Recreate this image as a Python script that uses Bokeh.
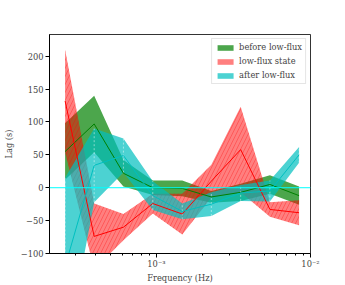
from bokeh.plotting import figure
from bokeh.embed import file_html
from bokeh.resources import INLINE
from bokeh.models import ColumnDataSource, Span, Legend, LegendItem, CustomJSTickFormatter, FixedTicker
import numpy as np

# ---- data ----
freq = [2.55e-4, 3.94e-4, 6.1e-4, 9.46e-4, 1.47e-3, 2.27e-3, 3.52e-3, 5.45e-3, 8.43e-3]

before_lag = [55, 97, 22, 0, -1, -14, -7, 5, -12]
before_err = [43, 43, 20, 11, 12, 9, 13, 14, 14]

low_lag = [132, -74, -60, -24, -40, 10, 58, -33, -38]
low_err = [78, 50, 20, 15, 31, 25, 65, 11, 19]

after_lag = [-120, 34, 49, -12, -36, -25, -8, -5, 50]
after_err = [135, 56, 26, 22, 12, 18, 12, 16, 12]

labels = ["before low-flux", "low-flux state", "after low-flux"]
y_ticks = [-100, -50, 0, 50, 100, 150, 200]
x_major = [1e-3, 1e-2]
x_minor = [3e-4, 4e-4, 5e-4, 6e-4, 7e-4, 8e-4, 9e-4,
           2e-3, 3e-3, 4e-3, 5e-3, 6e-3, 7e-3, 8e-3, 9e-3]

FONT = "DejaVu Serif"
FS = "8.3px"


def src(lag, err):
    lag = np.array(lag, dtype=float)
    err = np.array(err, dtype=float)
    return ColumnDataSource(dict(x=freq, y=lag, lo=lag - err, hi=lag + err))


p = figure(width=345, height=285, x_axis_type="log",
           x_range=(2.02e-4, 1e-2), y_range=(-100, 233),
           output_backend="svg", toolbar_location=None,
           min_border_left=43, min_border_top=34, min_border_right=35, min_border_bottom=32)
p.xgrid.grid_line_color = None
p.ygrid.grid_line_color = None
p.outline_line_color = "black"
p.outline_line_width = 0.8
p.background_fill_color = "white"
p.border_fill_color = "white"

s_b = src(before_lag, before_err)
s_l = src(low_lag, low_err)
s_a = src(after_lag, after_err)

r_b = p.varea(x="x", y1="lo", y2="hi", source=s_b, fill_color="#008000", fill_alpha=0.7)
r_l = p.varea(x="x", y1="lo", y2="hi", source=s_l, fill_color="#ff0000", fill_alpha=0.5)
p.varea(x="x", y1="lo", y2="hi", source=s_l, fill_alpha=0,
        hatch_pattern="/", hatch_color="#ff0000", hatch_alpha=0.5,
        hatch_scale=8, hatch_weight=0.6)
r_a = p.varea(x="x", y1="lo", y2="hi", source=s_a, fill_color="#00bfbf", fill_alpha=0.7)

p.segment(x0="x", y0="lo", x1="x", y1="hi", source=s_a, line_color="white",
          line_alpha=0.6, line_dash="2 2", line_width=0.8)

p.line(x="x", y="y", source=s_b, line_color="#008000", line_width=1)
p.line(x="x", y="y", source=s_l, line_color="#ff0000", line_width=1)
p.line(x="x", y="y", source=s_a, line_color="#00bfbf", line_width=1)

p.add_layout(Span(location=0, dimension="width", line_color="#00ffff", line_width=1))

legend = Legend(items=[LegendItem(label=labels[0], renderers=[r_b]),
                       LegendItem(label=labels[1], renderers=[r_l]),
                       LegendItem(label=labels[2], renderers=[r_a])],
                location="top_right")
legend.label_text_font = FONT
legend.label_text_font_size = FS
legend.glyph_width = 20
legend.glyph_height = 7
legend.label_height = 9
legend.spacing = 4
legend.padding = 3
legend.margin = 4
legend.label_standoff = 4
legend.border_line_color = "#cccccc"
legend.border_line_width = 0.8
legend.background_fill_alpha = 0.8
p.add_layout(legend)

# axes
p.xaxis.axis_label = "Frequency (Hz)"
p.yaxis.axis_label = "Lag (s)"
for ax in (p.xaxis[0], p.yaxis[0]):
    ax.axis_label_text_font = FONT
    ax.axis_label_text_font_size = FS
    ax.axis_label_text_font_style = "normal"
    ax.major_label_text_font = FONT
    ax.major_label_text_font_size = FS
    ax.axis_line_color = "black"
    ax.major_tick_line_color = "black"
    ax.major_tick_in = 0
    ax.major_tick_out = 4
    ax.minor_tick_in = 0
    ax.minor_tick_out = 2
    ax.major_label_standoff = 2
    ax.axis_label_standoff = 4

p.yaxis.ticker = FixedTicker(ticks=y_ticks)
p.yaxis.minor_tick_line_color = None
p.xaxis.ticker = FixedTicker(ticks=x_major, minor_ticks=x_minor)
p.xaxis.major_label_standoff = 1
p.xaxis.axis_label_standoff = 1
p.xaxis.formatter = CustomJSTickFormatter(code="""
const e = Math.round(Math.log10(tick));
const sup = {'-':'\\u207b','0':'\\u2070','1':'\\u00b9','2':'\\u00b2','3':'\\u00b3','4':'\\u2074','5':'\\u2075','6':'\\u2076','7':'\\u2077','8':'\\u2078','9':'\\u2079'};
return '10' + String(e).split('').map(c => sup[c]).join('');
""")

open("out.html", "w", encoding="utf-8").write(file_html(p, INLINE))
